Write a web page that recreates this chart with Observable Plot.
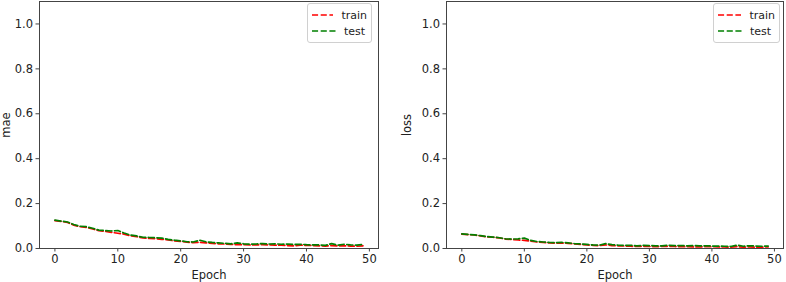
<!DOCTYPE html>
<html><head><meta charset="utf-8">
<script src="https://cdn.jsdelivr.net/npm/d3@7"></script>
<script src="https://cdn.jsdelivr.net/npm/@observablehq/plot@0.6"></script>
<style>
body{margin:0;background:#fff;font-family:"DejaVu Sans",sans-serif;}
#wrap{position:relative;width:786px;height:282px;overflow:hidden;background:#fff}
.panel{position:absolute;top:0}
.panel text{font-family:"DejaVu Sans";}
.legend{position:absolute;border:1px solid #d0d0d0;border-radius:3px;background:rgba(255,255,255,0.85);font:11px "DejaVu Sans";color:#222;box-sizing:border-box;padding:3px 4px}
.legend .row{display:flex;align-items:center;height:16px}
.legend svg{margin-right:8px}
</style>
</head><body>
<div id="wrap"></div>
<script>
const epochs = d3.range(50);
const xTicks = [0, 10, 20, 30, 40, 50];
const yTicks = [0, 0.2, 0.4, 0.6, 0.8, 1.0];
const seriesNames = ["train", "test"];
const seriesColors = ["red", "green"];

const maeTrain = [0.124,0.121,0.116,0.104,0.097,0.094,0.087,0.079,0.076,0.072,
  0.068,0.064,0.057,0.053,0.047,0.045,0.044,0.041,0.038,0.034,
  0.032,0.028,0.026,0.028,0.025,0.023,0.021,0.020,0.018,0.017,
  0.017,0.016,0.016,0.017,0.016,0.015,0.015,0.013,0.012,0.015,
  0.014,0.013,0.012,0.011,0.013,0.011,0.012,0.011,0.010,0.012];
const maeTest = [0.126,0.122,0.118,0.107,0.099,0.097,0.090,0.082,0.080,0.078,
  0.080,0.069,0.060,0.056,0.050,0.049,0.048,0.046,0.041,0.037,
  0.034,0.030,0.029,0.037,0.030,0.027,0.025,0.023,0.021,0.025,
  0.021,0.019,0.020,0.022,0.020,0.021,0.019,0.020,0.018,0.019,
  0.017,0.016,0.016,0.014,0.022,0.015,0.019,0.016,0.015,0.018];
const lossTrain = [0.064,0.062,0.060,0.056,0.052,0.050,0.047,0.042,0.040,0.038,
  0.036,0.033,0.029,0.027,0.025,0.024,0.024,0.023,0.021,0.018,
  0.016,0.014,0.013,0.016,0.013,0.012,0.011,0.010,0.009,0.010,
  0.009,0.008,0.009,0.010,0.009,0.008,0.008,0.007,0.007,0.008,
  0.008,0.007,0.007,0.006,0.008,0.006,0.007,0.006,0.006,0.007];
const lossTest = [0.065,0.063,0.061,0.057,0.053,0.051,0.048,0.043,0.042,0.043,
  0.046,0.036,0.031,0.029,0.027,0.026,0.027,0.025,0.022,0.020,
  0.018,0.016,0.015,0.022,0.017,0.015,0.014,0.014,0.012,0.014,
  0.013,0.012,0.012,0.014,0.013,0.013,0.012,0.013,0.012,0.012,
  0.011,0.011,0.010,0.009,0.015,0.010,0.012,0.011,0.010,0.011];

const wrap = document.getElementById("wrap");
const dash = "6.1,2.6";

function panel(name, train, test, left, ml, mr, labelOffset, legendBox) {
  const rows = (arr, s) => arr.map((v, i) => ({epoch: epochs[i], value: v, series: s}));
  const p = Plot.plot({
    width: 393, height: 282,
    marginLeft: ml, marginRight: mr, marginTop: 1, marginBottom: 34,
    style: "font-family:'DejaVu Sans';font-size:11.5px;color:#222;background:white;overflow:visible",
    x: {domain: [-2.45, 51.45]},
    y: {domain: [0, 1.1]},
    marks: [
      Plot.line(rows(train, seriesNames[0]), {x: "epoch", y: "value", stroke: seriesColors[0], strokeWidth: 1.7, strokeDasharray: dash}),
      Plot.line(rows(test, seriesNames[1]), {x: "epoch", y: "value", stroke: seriesColors[1], strokeWidth: 1.7, strokeDasharray: dash}),
      Plot.frame({stroke: "#444", strokeWidth: 1}),
      Plot.axisX({ticks: xTicks, tickSize: 3.5, tickPadding: 3, stroke: "#444", fontSize: 11.5, label: "Epoch", labelAnchor: "center", labelArrow: "none", labelOffset: 30}),
      Plot.axisY({ticks: yTicks, tickFormat: d3.format(".1f"), tickSize: 3.5, tickPadding: 3, stroke: "#444", fontSize: 11.5, label: name, labelAnchor: "center", labelArrow: "none", labelOffset: labelOffset})
    ]
  });
  p.classList.add("panel");
  p.style.left = left + "px";
  wrap.appendChild(p);
  const lg = document.createElement("div");
  lg.className = "legend";
  Object.assign(lg.style, {left: legendBox[0] + "px", top: legendBox[1] + "px", width: legendBox[2] + "px", height: legendBox[3] + "px"});
  seriesNames.forEach((s, i) => {
    const r = document.createElement("div");
    r.className = "row";
    r.innerHTML = `<svg width="24" height="4"><line x1="0" y1="2" x2="24" y2="2" stroke="${seriesColors[i]}" stroke-width="1.6" stroke-dasharray="${dash}"/></svg><span>${s}</span>`;
    lg.appendChild(r);
  });
  wrap.appendChild(lg);
}

panel("mae", maeTrain, maeTest, 0, 39, 15, 38, [307, 3, 65, 40]);
panel("loss", lossTrain, lossTest, 393, 53, 3, 44, [713, 3, 67, 40]);
</script>
</body></html>
